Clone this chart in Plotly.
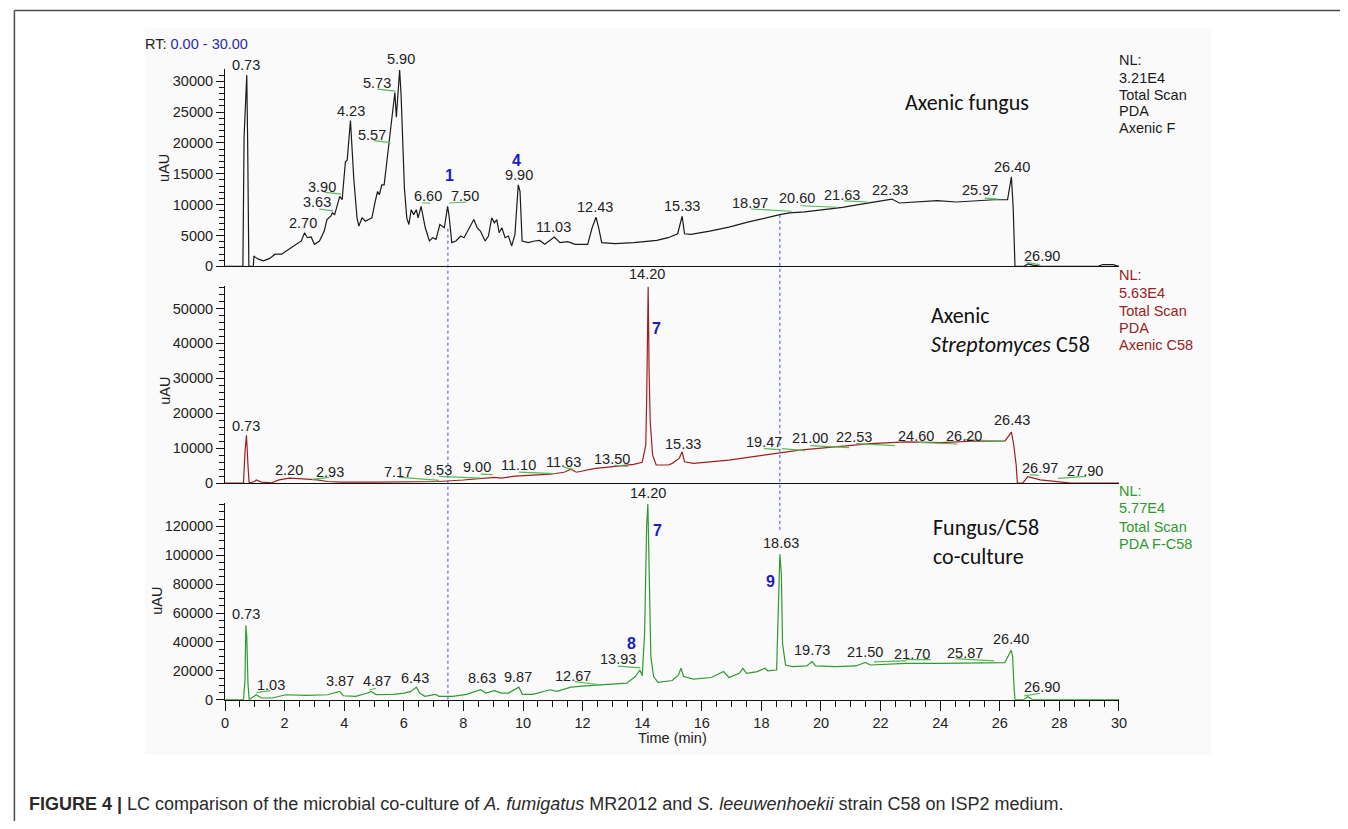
import plotly.graph_objects as go

W, H = 1348, 829

# ---------------- chromatogram values ----------------
# Top: axenic fungus (time in min, intensity in uAU)
top_t = [0.00, 0.60, 0.64, 0.68, 0.70, 0.73, 0.76, 0.80, 0.95, 0.97,
         1.01, 1.12, 1.29, 1.50, 1.68, 1.90, 2.23, 2.45, 2.56, 2.67,
         2.76, 2.89, 3.00, 3.17, 3.33, 3.42, 3.55, 3.60, 3.68, 3.85,
         3.93, 4.04, 4.10, 4.21, 4.24, 4.32, 4.43, 4.49, 4.60, 4.71,
         4.82, 4.93, 5.04, 5.12, 5.18, 5.26, 5.34, 5.43, 5.51, 5.59,
         5.70, 5.75, 5.80, 5.86, 5.91, 5.97, 6.02, 6.10, 6.17, 6.25,
         6.33, 6.42, 6.48, 6.58, 6.66, 6.72, 6.86, 6.97, 7.08, 7.21,
         7.36, 7.47, 7.52, 7.61, 7.75, 7.91, 8.02, 8.19, 8.35, 8.46,
         8.57, 8.73, 8.84, 8.95, 9.04, 9.12, 9.20, 9.29, 9.40, 9.51,
         9.62, 9.73, 9.84, 9.90, 9.97, 10.17, 10.39, 10.56, 10.73, 11.05,
         11.24, 11.50, 11.75, 11.94, 12.17, 12.32, 12.45, 12.54, 12.64, 13.09,
         13.72, 14.49, 14.87, 15.19, 15.34, 15.42, 15.63, 16.27, 16.91, 17.54,
         18.18, 18.62, 18.94, 19.45, 20.09, 20.72, 21.36, 22.00, 22.38, 22.63,
         23.27, 23.90, 24.54, 25.18, 25.81, 26.26, 26.39, 26.45, 26.51, 26.80,
         26.95, 27.10, 27.40, 29.30, 29.45, 29.80, 29.95, 30.00]
top_v = [0, 0, 21000, 26800, 27000, 31000, 20000, 0, 0, 1700,
         1500, 1170, 910, 1300, 1980, 1980, 3050, 3850, 4120, 5450,
         4650, 4760, 3580, 4120, 5720, 7590, 8130, 8660, 8390, 11340,
         10800, 16950, 17210, 23630, 21220, 14280, 7860, 6530, 7860, 7330,
         7590, 7860, 10540, 12140, 11600, 13200, 13200, 16950, 19890, 22830,
         28180, 24170, 28180, 31800, 27640, 19620, 12670, 7860, 6790, 9190,
         8390, 9190, 7860, 9730, 7590, 6260, 4120, 4650, 4380, 6790,
         6260, 9730, 8130, 3850, 4120, 4920, 4650, 6260, 7590, 6260,
         5720, 4120, 4920, 7860, 7060, 7590, 5450, 6260, 4650, 4920,
         3320, 5190, 13200, 12140, 4120, 3850, 4120, 4200, 3600, 4760,
         3850, 4010, 3580, 3580, 3580, 6260, 7960, 6260, 3850, 3690,
         3850, 4220, 4650, 5290, 8130, 5290, 5190, 5720, 6360, 7170,
         7960, 8390, 8660, 8820, 9190, 9570, 10100, 10640, 10910, 10270,
         10430, 10640, 10430, 10640, 10800, 10800, 14500, 9460, 0, 0,
         400, 200, 0, 0, 300, 300, 0, 0]

# Middle: axenic Streptomyces C58
mid_t = [0.00, 0.62, 0.67, 0.72, 0.77, 0.81, 0.99, 1.05, 1.22, 1.57,
         1.81, 2.16, 2.62, 3.09, 3.44, 3.90, 5.07, 6.24, 7.18, 7.99,
         8.58, 9.04, 9.28, 9.74, 10.33, 10.91, 11.38, 11.61, 11.79, 12.08,
         12.43, 12.78, 13.24, 13.71, 14.00, 14.12, 14.15, 14.18, 14.20, 14.23,
         14.27, 14.35, 14.47, 14.88, 15.01, 15.24, 15.34, 15.42, 15.72, 16.91,
         18.10, 18.63, 19.28, 20.47, 21.66, 22.85, 24.03, 25.22, 26.17, 26.39,
         26.47, 26.55, 26.59, 26.77, 26.94, 27.36, 27.95, 28.40, 30.00]
mid_v = [0, 0, 8970, 13670, 5180, 0, 450, 900, 280, 100,
         930, 1420, 1220, 930, 450, 300, 300, 300, 450, 880,
         1230, 1650, 1420, 1980, 2260, 2540, 3110, 3960, 3110, 3680,
         4240, 4520, 5000, 5370, 5940, 10840, 23980, 50950, 56200, 32550,
         17440, 8010, 5180, 5180, 5650, 7070, 8950, 6120, 5650, 6600,
         8010, 8490, 9430, 10360, 11330, 11780, 11600, 12060, 12000, 14610,
         10840, 5180, 0, 0, 1870, 930, 450, 0, 0]

# Bottom: fungus / C58 co-culture
bot_t = [0.00, 0.62, 0.67, 0.70, 0.73, 0.77, 0.81, 0.99, 1.05, 1.22,
         1.58, 2.04, 2.74, 3.44, 3.85, 3.97, 4.38, 4.78, 4.90, 5.07,
         5.66, 6.01, 6.24, 6.42, 6.53, 6.71, 7.06, 7.18, 7.64, 8.11,
         8.58, 8.75, 9.04, 9.28, 9.51, 9.86, 9.98, 10.33, 10.91, 11.14,
         11.61, 12.08, 12.66, 13.24, 13.48, 13.77, 13.92, 14.00, 14.08, 14.12,
         14.15, 14.19, 14.22, 14.25, 14.29, 14.38, 14.53, 15.01, 15.22, 15.30,
         15.39, 15.72, 16.32, 16.73, 16.91, 17.26, 17.38, 17.50, 17.86, 18.12,
         18.21, 18.51, 18.57, 18.62, 18.67, 18.71, 18.81, 19.05, 19.52, 19.70,
         19.82, 20.47, 21.18, 21.48, 21.66, 22.85, 24.03, 25.22, 26.17, 26.38,
         26.43, 26.47, 26.51, 26.80, 26.94, 27.10, 30.00]
bot_v = [0, 0, 13710, 51430, 43480, 11450, 0, 2330, 3430, 1170,
         1170, 3430, 3020, 3430, 5760, 2740, 2330, 4590, 5760, 3560,
         3700, 4590, 5760, 8700, 4590, 2330, 3700, 2330, 2330, 3700,
         6860, 4590, 6280, 4590, 4590, 8700, 3700, 3700, 6860, 5760,
         8700, 9600, 10360, 11000, 11450, 16050, 20570, 16500, 45740, 89150,
         121170, 135500, 102870, 66300, 29760, 16050, 11930, 13300, 17140, 21740,
         16050, 14190, 15360, 19470, 15360, 18310, 21740, 18310, 19470, 21740,
         20000, 20570, 57190, 100600, 86880, 38880, 24000, 22900, 23360, 26330,
         23360, 22900, 23360, 25850, 24000, 25170, 25170, 25600, 25600, 34290,
         30000, 11450, 0, 0, 2000, 0, 0]

assert len(top_t) == len(top_v) and len(mid_t) == len(mid_v) and len(bot_t) == len(bot_v)

# Peak labels: text, label time, label height (data units of each panel)
top_lab = ["0.73", "5.90", "5.73", "4.23", "5.57", "3.90", "3.63", "2.70", "6.60", "7.50",
           "9.90", "11.03", "12.43", "15.33", "18.97", "20.60", "21.63", "22.33", "25.97", "26.40", "26.90"]
top_lab_t = [0.70, 5.89, 5.09, 4.22, 4.92, 3.26, 3.09, 2.63, 6.82, 8.05,
             9.88, 11.04, 12.40, 15.33, 17.63, 19.21, 20.72, 22.31, 25.34, 26.40, 27.40]
top_lab_v = [32560, 33520, 29790, 25230, 21330, 12940, 10430, 7060, 11390, 11390,
             14800, 6420, 9620, 9780, 10270, 11070, 11600, 12400, 12350, 16040, 1760]

mid_lab = ["14.20", "0.73", "2.20", "2.93", "7.17", "8.53", "9.00", "11.10", "11.63", "13.50",
           "15.33", "19.47", "21.00", "22.53", "24.60", "26.20", "26.43", "26.97", "27.90"]
mid_lab_t = [14.17, 0.70, 2.16, 3.53, 5.82, 7.16, 8.45, 9.86, 11.37, 13.00,
             15.36, 18.09, 19.64, 21.12, 23.20, 24.81, 26.40, 27.34, 28.87]
mid_lab_v = [59780, 16450, 3630, 3150, 3150, 3630, 4570, 5050, 6180, 6950,
             11200, 11660, 12790, 13070, 13560, 13560, 18090, 4200, 3350]

bot_lab = ["14.20", "0.73", "1.03", "3.87", "4.87", "6.43", "8.63", "9.87", "12.67", "13.93",
           "18.63", "19.73", "21.50", "21.70", "25.87", "26.40", "26.90"]
bot_lab_t = [14.20, 0.70, 1.53, 3.86, 5.09, 6.39, 8.61, 9.84, 11.67, 13.19,
             18.66, 19.69, 21.48, 23.05, 24.84, 26.37, 27.40]
bot_lab_v = [143450, 59310, 10150, 12690, 12690, 14740, 14740, 15430, 16590, 28460,
             108480, 34150, 33050, 31890, 32570, 42170, 9050]

# Compound numbers (blue)
cmp_lab = ["1", "4", "7", "7", "8", "9"]
cmp_panel = ["top", "top", "mid", "bot", "bot", "bot"]
cmp_t = [7.53, 9.79, 14.47, 14.50, 13.65, 18.31]
cmp_v = [14800, 17210, 44270, 116910, 39220, 81740]

# Green label leader segments (t0, v0, t1, v1)
top_marks = [(5.11, 28710, 5.72, 28390), (4.99, 20370, 5.55, 20050), (3.33, 12030, 3.89, 11710),
             (3.16, 9300, 3.62, 8980), (6.62, 10270, 6.88, 10270), (7.52, 10270, 8.11, 10430),
             (17.64, 9300, 19.01, 8930), (19.32, 9830, 20.56, 9580), (20.78, 10630, 21.55, 10430),
             (25.50, 11070, 25.94, 10910), (26.90, 640, 27.34, 270)]
mid_marks = [(2.92, 1080, 3.49, 1640), (5.82, 1730, 7.18, 790), (7.18, 1930, 8.58, 1450),
             (8.58, 2580, 8.98, 2410), (9.86, 3150, 11.07, 2690), (11.37, 4570, 11.67, 3910),
             (13.07, 5050, 13.53, 4760), (18.09, 9870, 18.62, 9590), (18.69, 9870, 19.46, 9300),
             (19.64, 10720, 20.95, 10150), (21.18, 11290, 22.48, 10720), (23.26, 11660, 24.58, 11200),
             (24.81, 12420, 26.17, 11940), (27.00, 2410, 27.30, 2210), (27.95, 1360, 28.90, 1930)]
bot_marks = [(1.05, 4940, 1.52, 6310), (4.84, 6720, 5.07, 7890), (11.73, 12480, 12.66, 10150),
             (13.19, 23180, 13.94, 22080), (21.78, 26190, 22.85, 26880), (22.85, 27770, 23.68, 27770),
             (24.51, 28460, 25.81, 26880), (26.82, 2610, 27.36, 4460)]

# Right-hand info blocks
top_info = ["NL:", "3.21E4", "Total Scan", "PDA", "Axenic F"]
mid_info = ["NL:", "5.63E4", "Total Scan", "PDA", "Axenic C58"]
bot_info = ["NL:", "5.77E4", "Total Scan", "PDA F-C58"]

x_ticks = list(range(0, 31, 2))

# ---------------- layout geometry (pixels of the 1348x829 page) ----------------
XL, XR = 223, 1125
ARIAL = "Arial, Liberation Sans, sans-serif"
AX_COL = "#111111"
TXT_COL = "#222222"


def py(p):
    return 1 - p / H


def pxp(p):
    return p / W


YMAX = {}


def yaxis_cfg(name, zero_px, ref_px, ref_val, top_px, dtick, minor_dtick, anchor):
    per_px = ref_val / (zero_px - ref_px)
    ymax = (zero_px - top_px) * per_px
    YMAX[name] = ymax
    return dict(domain=[py(zero_px), py(top_px)], range=[0, ymax],
                anchor=anchor, showline=True, linecolor=AX_COL, linewidth=1,
                ticks="outside", ticklen=8, tickwidth=1, tickcolor=AX_COL,
                tick0=0, dtick=dtick, tickformat="d", showgrid=False, zeroline=False,
                tickfont=dict(family=ARIAL, size=14.5, color=TXT_COL),
                minor=dict(dtick=minor_dtick, ticks="outside", ticklen=5,
                           tickcolor=AX_COL, tickwidth=1, showgrid=False))


fig = go.Figure()
series = [(top_t, top_v, "x", "y", "#1a1a1a"),
          (mid_t, mid_v, "x2", "y2", "#9e1f1f"),
          (bot_t, bot_v, "x3", "y3", "#2f9a2f")]
for t, v, xa, ya, col in series:
    fig.add_trace(go.Scatter(x=t, y=v, xaxis=xa, yaxis=ya, mode="lines",
                             line=dict(color=col, width=1.2), hoverinfo="skip",
                             showlegend=False))

xbase = dict(domain=[pxp(XL), pxp(XR)], range=[0, 30], showline=True, linecolor=AX_COL,
             linewidth=1, showgrid=False, zeroline=False)
fig.update_layout(
    width=W, height=H, margin=dict(l=0, r=0, t=0, b=0),
    paper_bgcolor="white", plot_bgcolor="rgba(0,0,0,0)", showlegend=False,
    xaxis=dict(xbase, anchor="y", showticklabels=False, ticks=""),
    xaxis2=dict(xbase, anchor="y2", showticklabels=False, ticks=""),
    xaxis3=dict(xbase, anchor="y3", ticks="outside", ticklen=10, tickwidth=1, tickcolor=AX_COL,
                tickvals=x_ticks, ticktext=[str(v) for v in x_ticks],
                tickfont=dict(family=ARIAL, size=14.5, color=TXT_COL),
                minor=dict(dtick=0.5, tick0=0, ticks="outside", ticklen=6,
                           tickcolor=AX_COL, tickwidth=1, showgrid=False)),
    yaxis=yaxis_cfg("y", 269, 82, 30000, 70, 5000, 1000, "x"),
    yaxis2=yaxis_cfg("y2", 487.8, 311.5, 50000, 289, 10000, 2000, "x2"),
    yaxis3=yaxis_cfg("y3", 706.5, 531.5, 120000, 508, 20000, 5000, "x3"),
)

ann = []
refs = {"top": ("x", "y"), "mid": ("x2", "y2"), "bot": ("x3", "y3")}
for key, labs, lt, lv in [("top", top_lab, top_lab_t, top_lab_v),
                          ("mid", mid_lab, mid_lab_t, mid_lab_v),
                          ("bot", bot_lab, bot_lab_t, bot_lab_v)]:
    xr, yr = refs[key]
    for s, t, v in zip(labs, lt, lv):
        ann.append(dict(text=s, x=t, y=v / YMAX[yr], xref=xr, yref=yr + " domain", showarrow=False,
                        xanchor="center", yanchor="middle",
                        font=dict(family=ARIAL, size=14.5, color=TXT_COL)))
for s, p, t, v in zip(cmp_lab, cmp_panel, cmp_t, cmp_v):
    xr, yr = refs[p]
    ann.append(dict(text="<b>%s</b>" % s, x=t, y=v / YMAX[yr], xref=xr, yref=yr + " domain",
                    showarrow=False, xanchor="center", yanchor="middle",
                    font=dict(family=ARIAL, size=16, color="#1c1cc4")))


def paper_text(text, x, y, size, color, family=ARIAL, xanchor="left", angle=0):
    ann.append(dict(text=text, x=pxp(x), y=py(y), xref="paper", yref="paper", showarrow=False,
                    xanchor=xanchor, yanchor="middle", textangle=angle,
                    font=dict(family=family, size=size, color=color)))


# y titles, x title, RT
for ycen, xcen in [(170, 162), (395, 163), (607, 155)]:
    paper_text("uAU", xcen, ycen, 14.5, TXT_COL, xanchor="center", angle=-90)
paper_text("Time (min)", 674, 745, 14.5, TXT_COL, xanchor="center")
paper_text("RT: <span style='color:#2b2ba8'>0.00 - 30.00</span>", 140, 44, 14.5, TXT_COL)

# info blocks
for lines, ys, col in [(top_info, [61, 78.5, 95.5, 112, 129.5], "#1a1a1a"),
                       (mid_info, [277.5, 296, 314, 331, 348.5], "#9b2222"),
                       (bot_info, [495.5, 513, 532.5, 549.5], "#2f9a2f")]:
    for s, y in zip(lines, ys):
        paper_text(s, 1123, y, 14.5, col)

TITLE_FONT = "Carlito, Lato, Open Sans, sans-serif"
paper_text("Axenic fungus", 907, 103, 22, "#111111", family=TITLE_FONT)
paper_text("Axenic", 933, 319, 22, "#111111", family=TITLE_FONT)
paper_text("<i>Streptomyces</i> C58", 933, 348, 22, "#111111", family=TITLE_FONT)
paper_text("Fungus/C58", 935, 533, 22, "#111111", family=TITLE_FONT)
paper_text("co-culture", 935, 562, 22, "#111111", family=TITLE_FONT)

# caption
paper_text("<b>FIGURE 4 |</b> LC comparison of the microbial co-culture of <i>A. fumigatus</i> MR2012 "
           "and <i>S. leeuwenhoekii</i> strain C58 on ISP2 medium.",
           23, 812, 18, "#2a2a2a", family="Liberation Sans, Arial, sans-serif")

fig.update_layout(annotations=ann)

shapes = []
# faint panel background and frame of the figure
shapes.append(dict(type="rect", xref="paper", yref="paper", x0=pxp(142), x1=pxp(1218),
                   y0=py(762), y1=py(28), fillcolor="#fafafa", line=dict(width=0), layer="below"))
shapes.append(dict(type="line", xref="paper", yref="paper", x0=pxp(10.5), x1=1, y0=py(10.5), y1=py(10.5),
                   line=dict(color="#4a4a4a", width=1.5)))
shapes.append(dict(type="line", xref="paper", yref="paper", x0=pxp(10.5), x1=pxp(10.5), y0=0, y1=py(10.5),
                   line=dict(color="#4a4a4a", width=1.5)))
# green leaders
for marks, (xr, yr) in [(top_marks, refs["top"]), (mid_marks, refs["mid"]), (bot_marks, refs["bot"])]:
    for t0, v0, t1, v1 in marks:
        shapes.append(dict(type="line", xref=xr, yref=yr, x0=t0, y0=v0, x1=t1, y1=v1,
                           line=dict(color="#55bb55", width=1.2)))
# blue dotted guide lines
for t, ytop, ybot in [(7.48, 228, 706.5), (18.62, 217, 535)]:
    shapes.append(dict(type="line", xref="x3", yref="paper", x0=t, x1=t, y0=py(ybot), y1=py(ytop),
                       line=dict(color="#3b4fe0", width=1, dash="dot")))
fig.update_layout(shapes=shapes)

# make the 1348x829 figure fill the browser viewport exactly
PAGE_FIX = (
    "var de=document.documentElement, b=document.body;"
    "[de,b].forEach(function(e){e.style.margin='0';e.style.padding='0';e.style.overflow='hidden';});"
    "var g=document.getElementById('{plot_id}');"
    "if(g){var p=g.parentElement;"
    "var sx=window.innerWidth/1348, sy=window.innerHeight/829;"
    "p.style.transformOrigin='0 0';"
    "p.style.transform='scale('+sx+','+sy+')';}"
)
fig.write_html("out.html", config={"displayModeBar": False}, post_script=PAGE_FIX)
